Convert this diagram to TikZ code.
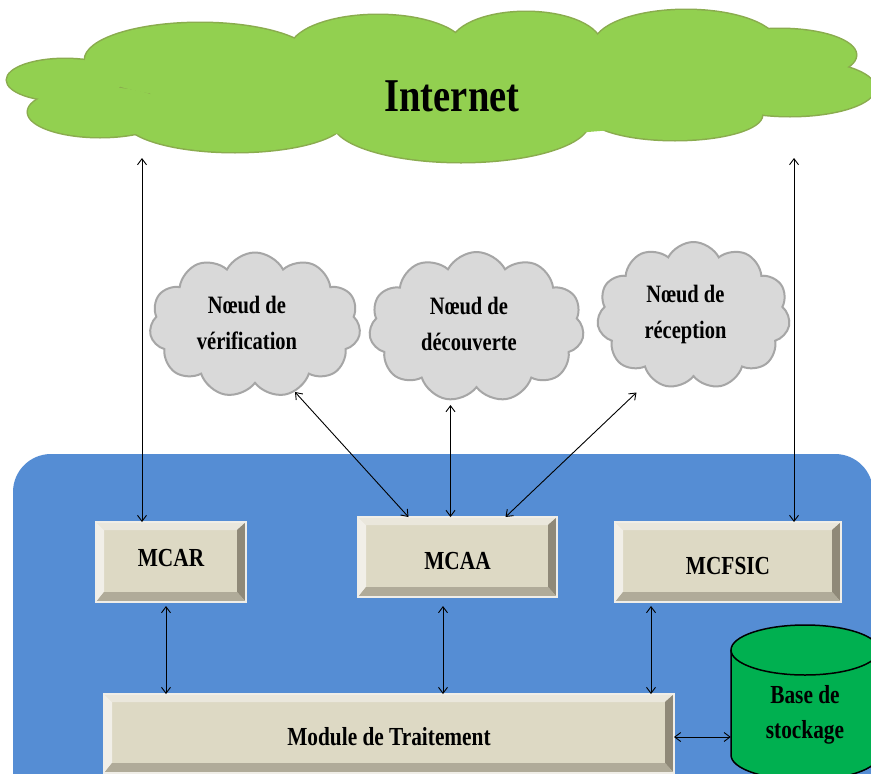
\documentclass[tikz,border=0pt]{standalone}
\usepackage{fontspec}
\setmainfont{Liberation Serif}[FakeStretch=0.82]
\usetikzlibrary{shapes.symbols,arrows.meta,calc}

\definecolor{panel}{RGB}{85,141,212}
\definecolor{inetfill}{RGB}{146,208,80}
\definecolor{inetline}{RGB}{138,172,78}
\definecolor{cloudfill}{RGB}{217,217,217}
\definecolor{cloudline}{RGB}{166,166,166}
\definecolor{face}{RGB}{221,217,196}
\definecolor{bevtop}{RGB}{234,231,220}
\definecolor{bevleft}{RGB}{241,239,232}
\definecolor{bevright}{RGB}{143,137,120}
\definecolor{bevbottom}{RGB}{176,171,153}
\definecolor{rim}{RGB}{240,238,232}
\definecolor{dbgreen}{RGB}{0,176,80}

\begin{document}
\begin{tikzpicture}[x=1pt,y=-1pt,
  lbl/.style={font=\fontsize{25}{36}\selectfont\bfseries, align=center, inner sep=0pt},
  nodecloud/.style={cloud, cloud puffs=11, cloud puff arc=125, fill=cloudfill,
    draw=cloudline, line width=2pt, inner sep=0pt},
  bevelbox/.style={fill=face, inner sep=0pt, outer sep=0pt, text height=24pt,
    text depth=0pt, font=\fontsize{26}{30}\selectfont\bfseries},
  link/.style={line width=0.9pt,
    {Straight Barb[length=6pt,width=9pt]}-{Straight Barb[length=6pt,width=9pt]}},
]
\useasboundingbox (0,0) rectangle (871,774);
\fill[white] (0,0) rectangle (871,774);

% green cloud: outline of every lobe first, fills on top leave only the outer edge
\def\lobes{200/60/115/37, 378/50/88/35, 526/45/75/33, 686/45/92/35,
    780/55/76/26, 790/88/85/28, 675/115/87/25, 461/122/128/40,
    235/120/110/32, 100/112/72/25, 65/80/58/21}
\foreach \cx/\cy/\rx/\ry in \lobes
  \draw[inetline, line width=3pt] (\cx,\cy) ellipse [x radius=\rx pt, y radius=\ry pt];
\foreach \cx/\cy/\rx/\ry in \lobes
  \fill[inetfill] (\cx,\cy) ellipse [x radius=\rx pt, y radius=\ry pt];
\fill[inetfill] (450,92) ellipse [x radius=300pt, y radius=45pt];
\node[inner sep=0pt, font=\fontsize{47}{50}\selectfont\bfseries] (inet) at (452,96) {Internet};

% blue base panel
\fill[panel, rounded corners=38pt] (13,454) rectangle (873,840);

% grey node clouds
\node[nodecloud, minimum width=211pt, minimum height=145pt] (cv) at (255,325) {};
\node[nodecloud, minimum width=215pt, minimum height=150pt] (cd) at (476.5,327) {};
\node[nodecloud, minimum width=193pt, minimum height=147pt] (cr) at (693.5,315.5) {};
\node[lbl] (tv) at (247,323) {Nœud de\\vérification};
\node[lbl] (td) at (469,324) {Nœud de\\découverte};
\node[lbl] (tr) at (685.5,314) {Nœud de\\réception};

% modules
\node[bevelbox, minimum width=150pt, minimum height=80pt, text height=8pt] (mcar) at (171,562) {MCAR};
\node[bevelbox, minimum width=199pt, minimum height=80pt] (mcaa) at (457.5,557) {MCAA};
\node[bevelbox, minimum width=226pt, minimum height=80pt] (mcfsic) at (728,562) {MCFSIC};
\node[bevelbox, minimum width=570pt, minimum height=79pt] (mod) at (389,733.5) {Module de Traitement};

\foreach \n in {mcar,mcaa,mcfsic,mod} {
  \fill[bevtop] (\n.north west) -- (\n.north east) -- ([shift={(-9,8)}]\n.north east)
    -- ([shift={(8,8)}]\n.north west) -- cycle;
  \fill[bevleft] (\n.north west) -- ([shift={(8,8)}]\n.north west)
    -- ([shift={(8,-10)}]\n.south west) -- (\n.south west) -- cycle;
  \fill[bevright] (\n.north east) -- ([shift={(-9,8)}]\n.north east)
    -- ([shift={(-9,-10)}]\n.south east) -- (\n.south east) -- cycle;
  \fill[bevbottom] (\n.south west) -- ([shift={(8,-10)}]\n.south west)
    -- ([shift={(-9,-10)}]\n.south east) -- (\n.south east) -- cycle;
  \draw[rim, line width=1.5pt] (\n.north west) rectangle (\n.south east);
}

% storage cylinder
\fill[dbgreen] (731,650) -- (731,755) arc[start angle=180, end angle=360, x radius=74pt, y radius=25pt]
  -- (879,650) -- cycle;
\draw[black, line width=1.5pt] (731,650) -- (731,755)
  arc[start angle=180, end angle=360, x radius=74pt, y radius=25pt] -- (879,650);
\draw[black, line width=1.5pt, fill=dbgreen] (805,650) ellipse [x radius=74pt, y radius=25pt];
\node[lbl, font=\fontsize{26}{35}\selectfont\bfseries, minimum width=148pt] (db) at (805,715) {Base de\\stockage};

% connectors
\coordinate (inL) at (142,158);
\coordinate (inR) at (794,158);
\draw[link] (inL) -- (inL |- mcar.north);
\draw[link] (inR) -- (inR |- mcfsic.north);
\draw[link] ([shift={(40,67)}]cv.center) -- ([xshift=-49pt]mcaa.north);
\draw[link] ([shift={(-26,78)}]cd.center) -- ([xshift=-7pt]mcaa.north);
\draw[link] ([shift={(-57,77)}]cr.center) -- ([xshift=48pt]mcaa.north);
\coordinate (p1) at ([shift={(-5,4)}]mcar.south);
\coordinate (p2) at ([shift={(-14.5,9)}]mcaa.south);
\coordinate (p3) at ([shift={(-77,4)}]mcfsic.south);
\draw[link] (p1) -- (p1 |- mod.north);
\draw[link] (p2) -- (p2 |- mod.north);
\draw[link] (p3) -- (p3 |- mod.north);
\coordinate (q) at ([shift={(0,3.5)}]mod.east);
\draw[link] (q) -- (q -| db.west);
\end{tikzpicture}
\end{document}
